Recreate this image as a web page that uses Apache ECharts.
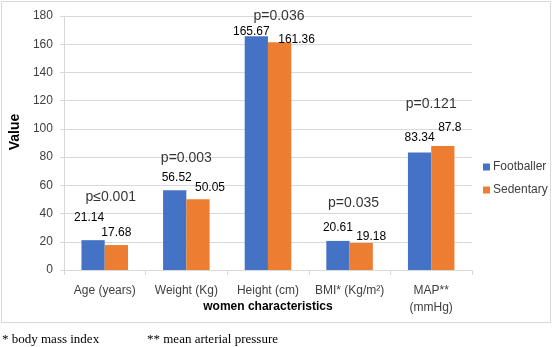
<!DOCTYPE html>
<html style="height: 100%">
<head>
    <meta charset="utf-8">
    <title>women characteristics</title>
    <script type="text/javascript" src="https://cdn.jsdelivr.net/npm/echarts@6/dist/echarts.min.js"></script>
</head>
<body style="height: 100%; margin: 0; background: #fff">
    <div id="container" style="width: 553px; height: 347px"></div>
    <script type="text/javascript">
        // 数据
        var categories = ['Age (years)', 'Weight (Kg)', 'Height (cm)', 'BMI* (Kg/m²)', 'MAP**\n(mmHg)'];
        var footballer = [21.14, 56.52, 165.67, 20.61, 83.34];
        var sedentary = [17.68, 50.05, 161.36, 19.18, 87.8];
        var pValues = ['p≤0.001', 'p=0.003', 'p=0.036', 'p=0.035', 'p=0.121'];
        var yTicks = { min: 0, max: 180, interval: 20 };

        // 标签偏移（照原图手动调整的位置）
        var footOffset = [[-4, -11], [2, -2], [-5, 6], [0, -2], [0, -4]];
        var sedOffset = [[0, -1], [12, -1], [17, 8], [10, 5], [7, -7]];
        var pOffset = [[6, -36], [0, -25], [11, -13], [4, -31], [0, -35]];

        var font = 'Liberation Sans';

        function withOffsets(values, offsets) {
            return values.map(function (v, i) {
                return { value: v, label: { offset: offsets[i] } };
            });
        }

        var pData = pValues.map(function (p, i) {
            return {
                value: Math.max(footballer[i], sedentary[i]),
                label: { formatter: p, offset: pOffset[i] }
            };
        });

        var myChart = echarts.init(document.getElementById('container'));
        var option = {
            animation: false,
            textStyle: { fontFamily: font },
            grid: { left: 60, right: 81, top: 16, bottom: 77 },
            legend: {
                data: ['Footballer', 'Sedentary'],
                orient: 'vertical',
                left: 478,
                top: 156,
                itemWidth: 7,
                itemHeight: 7,
                itemGap: 11,
                icon: 'rect',
                textStyle: { fontSize: 12, color: '#404040', fontFamily: font, padding: [0, 0, 0, -2] }
            },
            xAxis: {
                type: 'category',
                data: categories,
                name: 'women characteristics',
                nameLocation: 'middle',
                nameGap: 31,
                nameMoveOverlap: false,
                nameTextStyle: { fontSize: 12, fontWeight: 'bold', color: '#000', fontFamily: font, verticalAlign: 'top' },
                axisLine: { lineStyle: { color: '#d9d9d9' } },
                axisTick: { show: true, length: 5, lineStyle: { color: '#d9d9d9' } },
                axisLabel: { fontSize: 12, color: '#404040', margin: 12, lineHeight: 17, interval: 0 }
            },
            yAxis: {
                type: 'value',
                min: yTicks.min,
                max: yTicks.max,
                interval: yTicks.interval,
                name: 'Value',
                nameLocation: 'middle',
                nameGap: 38,
                nameTextStyle: { fontSize: 14, fontWeight: 'bold', color: '#000', fontFamily: font, padding: [0, 0, 0, 22] },
                axisLine: { show: true, lineStyle: { color: '#d9d9d9' } },
                axisTick: { show: true, length: 4, lineStyle: { color: '#d9d9d9' } },
                axisLabel: { fontSize: 12, color: '#404040', margin: 11 },
                splitLine: { lineStyle: { color: '#d9d9d9' } }
            },
            series: [
                {
                    name: 'Footballer',
                    type: 'bar',
                    barGap: '0%',
                    barCategoryGap: '43%',
                    itemStyle: { color: '#4472C4' },
                    label: { show: true, position: 'top', distance: 5, fontSize: 12, color: '#000' },
                    data: withOffsets(footballer, footOffset)
                },
                {
                    name: 'Sedentary',
                    type: 'bar',
                    itemStyle: { color: '#ED7D31' },
                    label: { show: true, position: 'top', distance: 5, fontSize: 12, color: '#000' },
                    data: withOffsets(sedentary, sedOffset)
                },
                {
                    // p 值标签
                    name: 'p',
                    type: 'scatter',
                    symbolSize: 0,
                    silent: true,
                    label: { show: true, position: 'top', distance: 0, fontSize: 14, color: '#000' },
                    data: pData
                }
            ],
            graphic: [
                {
                    type: 'rect',
                    shape: { x: 1.5, y: 1.5, width: 549, height: 321 },
                    style: { fill: 'none', stroke: '#d9d9d9', lineWidth: 1 },
                    z: -1
                },
                {
                    type: 'text',
                    left: 2,
                    top: 333,
                    style: { text: '* body mass index', font: '13px "Liberation Serif"', fill: '#000' }
                },
                {
                    type: 'text',
                    left: 147,
                    top: 333,
                    style: { text: '** mean arterial pressure', font: '13px "Liberation Serif"', fill: '#000' }
                }
            ]
        };
        myChart.setOption(option);
    </script>
</body>
</html>
